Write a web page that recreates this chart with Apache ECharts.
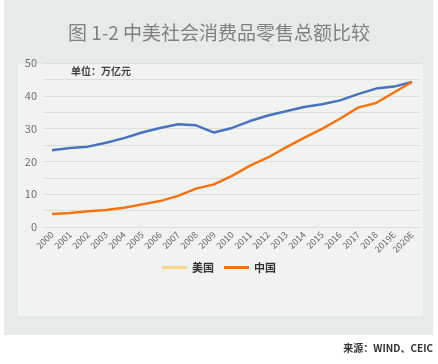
<!DOCTYPE html>
<html><head><meta charset="utf-8">
<script src="https://cdn.jsdelivr.net/npm/echarts@6/dist/echarts.min.js"></script>
<style>html,body{margin:0;padding:0;background:#fff}#c{width:438px;height:364px}</style>
</head><body><div id="c"></div>
<script>
const categories = ['2000','2001','2002','2003','2004','2005','2006','2007','2008','2009','2010','2011','2012','2013','2014','2015','2016','2017','2018','2019E','2020E'];
const usValues = [23.4,24.1,24.5,25.7,27.1,28.8,30.2,31.3,31.0,28.8,30.2,32.3,34.0,35.3,36.6,37.4,38.6,40.5,42.2,42.8,44.2];
const cnValues = [4.0,4.3,4.8,5.2,5.9,6.9,7.9,9.5,11.7,13.0,15.6,18.7,21.2,24.3,27.2,29.9,33.0,36.4,37.8,41.0,44.2];
const seriesNames = ['美国','中国'];
const titleText = '图 1-2 中美社会消费品零售总额比较';
const unitText = '单位：万亿元';
const sourceText = '来源：WIND、CEIC';

const chart = echarts.init(document.getElementById('c'));
const font = '"Noto Sans CJK SC","Noto Sans",sans-serif';
chart.setOption({
  animation: false,
  textStyle: {fontFamily: font},
  graphic: [
    {type:'rect', z:-10, shape:{x:4,y:0,width:429,height:335}, style:{fill:'#e7ebe8'}},
    {type:'rect', z:-9, shape:{x:18,y:64,width:405,height:252}, style:{fill:'#f1f3f1'}},
    {type:'text', left:'center', top:23, style:{text:titleText, fill:'#808080', font:'19px ' + font}},
    {type:'text', left:71, top:66, style:{text:unitText, fill:'#444', font:'bold 10px ' + font}},
    {type:'text', right:5, top:343, style:{text:sourceText, fill:'#333', font:'bold 10px ' + font}}
  ],
  legend: {
    bottom: 86, left: 'center',
    itemWidth: 25, itemHeight: 3, itemGap: 10,
    icon: 'rect',
    textStyle: {fontSize: 11, color: '#333', fontWeight: 'bold'},
    data: [
      {name: seriesNames[0], itemStyle:{color:'#fbd68c'}},
      {name: seriesNames[1], itemStyle:{color:'#f26f0b'}}
    ]
  },
  grid: {left: 43, right: 17, top: 63, bottom: 137},
  xAxis: {
    type: 'category', data: categories, boundaryGap: true,
    axisLine: {show:false}, axisTick: {show:false},
    axisLabel: {rotate: 45, fontSize: 9, color: '#666', interval: 0, margin: 6}
  },
  yAxis: {
    type: 'value', min: 0, max: 50, interval: 5,
    axisLine: {show:false}, axisTick: {show:false},
    axisLabel: {fontSize: 11, color: '#707070', margin: 6, formatter: v => (v % 10 === 0 ? String(v) : '')},
    splitLine: {lineStyle: {color: '#dcdfdc', width: 1}}
  },
  series: [
    {name: seriesNames[0], type:'line', data: usValues, showSymbol:false, symbol:'none',
     itemStyle:{color:'#fbd68c'}, lineStyle:{color:'#4a72bf', width:2.5}},
    {name: seriesNames[1], type:'line', data: cnValues, showSymbol:false, symbol:'none',
     itemStyle:{color:'#f26f0b'}, lineStyle:{color:'#f57312', width:2.5}}
  ]
});
</script></body></html>
